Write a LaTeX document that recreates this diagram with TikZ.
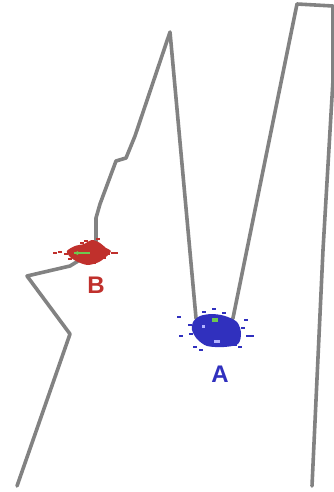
\documentclass[tikz,border=0pt]{standalone}
\usepackage{fontspec}
\setmainfont{Liberation Sans}
\definecolor{wallgray}{RGB}{130,130,130}
\definecolor{clusterred}{RGB}{192,48,44}
\definecolor{clusterblue}{RGB}{48,48,190}
\definecolor{poseline}{RGB}{110,200,80}
\tikzstyle{every picture}+=[x=1pt, y=-1pt]
\tikzstyle{wall}=[draw=wallgray, line width=3.6pt, line join=round, line cap=round]
\tikzstyle{label}=[font=\fontsize{24}{24}\selectfont\bfseries, inner sep=0pt]

\begin{document}
\begin{tikzpicture}
	\newcommand\particles[2]{
		\foreach \px/\py in {#2} {
			\fill[#1] (\px-2,\py-1.3) rectangle (\px+2,\py+1.3) ;
		}
	}
	\useasboundingbox (0,0) rectangle (334,492) ;
	% corridor walls
	\draw[wall] (17,486) -- (70,334) -- (27,276) -- (70,266) -- (96,250)
		-- (96,218) -- (100,204) -- (116,161) -- (126,158) -- (135,136)
		-- (170,32) -- (196,318) -- (214,340) -- (233,318) -- (297,4)
		-- (333,6) -- (333,80) -- (323,250) -- (312,486) ;
	% cluster B
	\fill[clusterred] plot[smooth cycle] coordinates {
		(67,251) (75,246) (84,244) (92,240) (100,243) (106,248) (111,251)
		(107,256) (99,262) (88,265) (78,262) (70,257) } ;
	\particles{clusterred}{55/253, 60/252, 113/253, 116/253, 104/258, 70/259,
		98/239, 82/243, 108/254, 66/254, 94/263, 86/241}
	\draw[poseline, line width=1.2pt] (74,253) -- (90,253) ;
	\fill[poseline] (74,253) -- (78,251) -- (78,255) -- cycle ;
	% cluster A
	\fill[clusterblue] plot[smooth cycle] coordinates {
		(193,322) (200,316) (212,314) (225,316) (237,322) (241,333)
		(238,344) (224,347) (207,346) (197,339) (192,330) } ;
	\particles{clusterblue}{179/317, 181/336, 246/320, 248/336, 252/336,
		195/347, 201/350, 240/347, 214/309, 204/312, 235/345, 190/325,
		191/334, 243/328, 224/313}
	\fill[poseline] (212,318) rectangle (218,322) ;
	\fill[blue!30] (214,340) rectangle (220,343) ;
	\fill[blue!30] (202,325) rectangle (205,328) ;
	% labels
	\node[label, text=clusterred] (B) at (96,285) {B} ;
	\node[label, text=clusterblue] (A) at (220,374) {A} ;
\end{tikzpicture}
\end{document}
